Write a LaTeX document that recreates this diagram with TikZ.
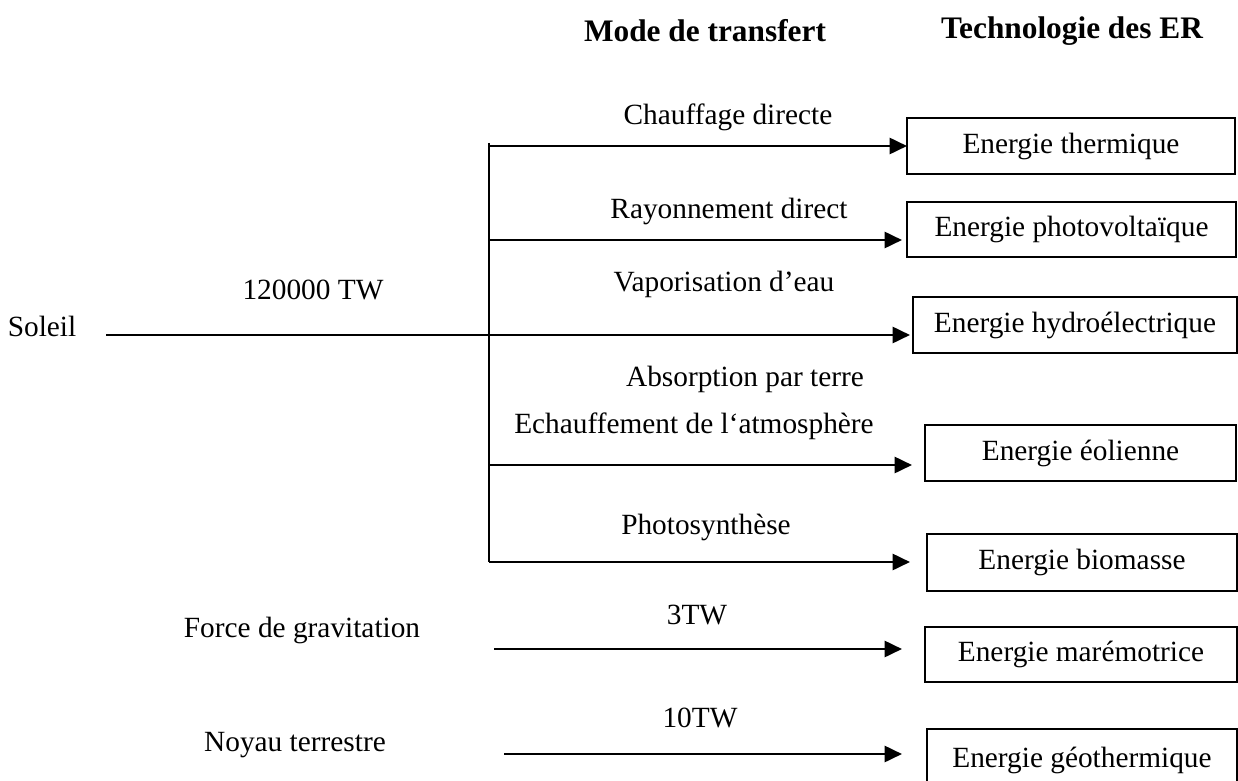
\documentclass[tikz,border=0pt]{standalone}
\usepackage{fontspec}
\setmainfont{Liberation Serif}
\usetikzlibrary{arrows.meta}

\tikzset{
  flow/.style={line width=2pt, -{Triangle[length=13pt,width=12pt]}},
  trunk/.style={line width=2pt},
  techbox/.style={draw, line width=1.3pt, inner sep=0pt, minimum height=42pt, font=\fontsize{22}{26}\selectfont},
  lbl/.style={font=\fontsize{22}{26}\selectfont, inner sep=0pt},
  head/.style={font=\bfseries\fontsize{23.5}{28}\selectfont, inner sep=0pt}
}

\begin{document}
\begin{tikzpicture}[x=0.75pt,y=0.75pt,yscale=-1,xscale=1]
\fill[white] (0,0) rectangle (1238,781);
\useasboundingbox (0,0) rectangle (1238,781);

% Column titles
\node[head] (mode) at (705,31) {Mode de transfert};
\node[head] (techno) at (1072,31) {Technologie des ER};

%Shape: Rectangle -- technologies
\node[techbox, minimum width=246pt] (thermique) at (1071,146) {Energie thermique};
\node[techbox, minimum width=246.75pt, minimum height=41.25pt] (pv) at (1071.5,229.5) {Energie photovoltaïque};
\node[techbox, minimum width=243pt] (hydro) at (1075,325) {Energie hydroélectrique};
\node[techbox, minimum width=233.25pt] (eolien) at (1080.5,453) {Energie éolienne};
\node[techbox, minimum width=232.5pt, minimum height=42.75pt] (biomasse) at (1082,562.5) {Energie biomasse};
\node[techbox, minimum width=234pt, minimum height=41.25pt] (maree) at (1081,654.5) {Energie marémotrice};
\node[techbox, minimum width=232.5pt, minimum height=46pt] (geo) at (1082,760) {Energie géothermique};

% Text Node -- sources
\node[lbl] (soleil) at (42,326) {Soleil};
\node[lbl] (gravite) at (302,630) {Force de gravitation};
\node[lbl] (noyau) at (295,745) {Noyau terrestre};

% Text Node -- powers and transfer modes
\node[lbl] (p-soleil) at (313,290) {120000 TW};
\node[lbl] (chauffage) at (728,117) {Chauffage directe};
\node[lbl] (rayonnement) at (729,211) {Rayonnement direct};
\node[lbl] (vapeur) at (724,284) {Vaporisation d’eau};
\node[lbl] (absorption) at (745,379) {Absorption par terre};
\node[lbl] (echauffement) at (694,426) {Echauffement de l‘atmosphère};
\node[lbl] (photo) at (706,527) {Photosynthèse};
\node[lbl] (p-grav) at (697,615) {3TW};
\node[lbl] (p-noyau) at (700,718) {10TW};

% ends of the lines
\coordinate (trunk-top) at (489,143);
\coordinate (trunk-bot) at (489,562);
\coordinate (src-soleil) at (106,335);
\coordinate (src-grav) at (494,649);
\coordinate (src-noyau) at (504,754);
\coordinate (tip-thermique) at (907,146);
\coordinate (tip-pv) at (902,240);
\coordinate (tip-hydro) at (910,335);
\coordinate (tip-eolien) at (912,465);
\coordinate (tip-biomasse) at (910,562);
\coordinate (tip-maree) at (902,649);
\coordinate (tip-geo) at (902,754);

%Straight Lines
\draw[trunk] (trunk-top) -- (trunk-bot);
\draw[flow] (trunk-top |- tip-thermique) -- (tip-thermique);
\draw[flow] (trunk-top |- tip-pv) -- (tip-pv);
\draw[flow] (src-soleil) -- (tip-hydro);
\draw[flow] (trunk-top |- tip-eolien) -- (tip-eolien);
\draw[flow] (trunk-bot) -- (tip-biomasse);
\draw[flow] (src-grav) -- (tip-maree);
\draw[flow] (src-noyau) -- (tip-geo);

\end{tikzpicture}
\end{document}
